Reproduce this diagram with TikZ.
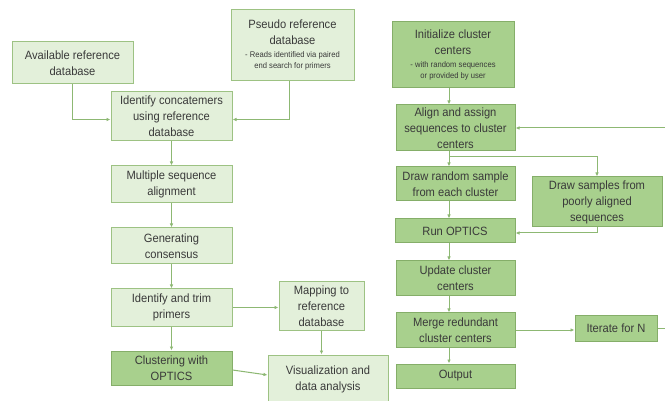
\documentclass[tikz,border=0pt]{standalone}
\usepackage{fontspec}
\setmainfont{Liberation Sans}[FakeStretch=0.93]
\usetikzlibrary{arrows.meta,calc}
\definecolor{lightfill}{HTML}{E3F0DA}
\definecolor{darkfill}{HTML}{A8D08D}
\definecolor{boxline}{HTML}{9DC283}
\definecolor{darkline}{HTML}{85AE69}
\definecolor{arrowcol}{HTML}{8DB873}
\definecolor{txt}{HTML}{3A3A3A}
\newcommand{\smalltxt}{\fontsize{8.2}{10}\selectfont}
\tikzset{
  boxbase/.style={draw, line width=1pt, align=center, inner sep=1pt, text=txt,
    font=\fontsize{12}{16}\selectfont},
  lightbox/.style={boxbase, fill=lightfill, draw=boxline},
  darkbox/.style={boxbase, fill=darkfill, draw=darkline},
  conn/.style={draw=arrowcol, line width=1pt, -{Latex[length=4pt,width=3.5pt]}}
}
\begin{document}
\begin{tikzpicture}[x=1pt,y=-1pt]
\useasboundingbox[fill=white] (0,0) rectangle (665,401);
% left column
\node[lightbox, minimum width=121pt, minimum height=42pt] (avail) at (72.5,63) {Available reference\\database};
\node[lightbox, minimum width=123pt, minimum height=71pt] (pseudo) at (292.5,45.5) {Pseudo reference\\database\\[-3pt]{\smalltxt - Reads identified via paired}\\[-5pt]{\smalltxt end search for primers}};
\node[lightbox, minimum width=121pt, minimum height=49pt] (ident) at (171.5,116.5) {Identify concatemers\\using reference\\database};
\node[lightbox, minimum width=121pt, minimum height=37pt] (msa) at (171.5,184.5) {Multiple sequence\\alignment};
\node[lightbox, minimum width=121pt, minimum height=36pt] (gen) at (171.5,246) {Generating\\consensus};
\node[lightbox, minimum width=121pt, minimum height=37pt] (trim) at (171.5,307.5) {Identify and trim\\primers};
\node[darkbox, minimum width=121pt, minimum height=34pt] (clus) at (171.5,368) {Clustering with\\OPTICS};
\node[lightbox, minimum width=85pt, minimum height=48pt] (map) at (321.5,306) {Mapping to\\reference\\database};
\node[lightbox, minimum width=120pt, minimum height=48pt] (vis) at (328,379) {Visualization and\\data analysis};
% right column
\node[darkbox, minimum width=122pt, minimum height=66pt] (init) at (453,55) {Initialize cluster\\centers\\[-3pt]{\smalltxt - with random sequences}\\[-5pt]{\smalltxt or provided by user}};
\node[darkbox, minimum width=119pt, minimum height=46pt] (align) at (455.5,128) {Align and assign\\sequences to cluster\\centers};
\node[darkbox, minimum width=119pt, minimum height=34pt] (rand) at (455.5,184) {Draw random sample\\from each cluster};
\node[darkbox, minimum width=130pt, minimum height=50pt] (poor) at (597,202) {Draw samples from\\poorly aligned\\sequences};
\node[darkbox, minimum width=120pt, minimum height=24pt] (run) at (455,231) {Run OPTICS};
\node[darkbox, minimum width=119pt, minimum height=35pt] (upd) at (455.5,278.5) {Update cluster\\centers};
\node[darkbox, minimum width=119pt, minimum height=34pt] (merge) at (455.5,330) {Merge redundant\\cluster centers};
\node[darkbox, minimum width=119pt, minimum height=24pt] (out) at (455.5,376) {Output};
\node[darkbox, minimum width=82pt, minimum height=25pt] (iter) at (616,328.5) {Iterate for N};
\coordinate (loopA) at (668,328.5);
\coordinate (loopB) at (668,128);
\coordinate (split) at (449,157);
% left connectors
\draw[conn] (avail.south) |- ([yshift=-3pt]ident.west);
\draw[conn] ([xshift=-3pt]pseudo.south) |- ([yshift=-3pt]ident.east);
\draw[conn] (ident) -- (msa);
\draw[conn] (msa) -- (gen);
\draw[conn] (gen) -- (trim);
\draw[conn] (trim) -- (clus);
\draw[conn] (trim.east) -- (map.west |- trim.east);
\draw[conn] (map) -- (map.south |- vis.north);
\draw[conn] ([yshift=-2pt]clus.east) -- ([yshift=4pt]vis.west);
% right connectors
\draw[conn] ([xshift=-4pt]init.south) -- ([xshift=-6.5pt]align.north);
\draw[conn] ([xshift=-6.5pt]align.south) -- ([xshift=-6.5pt]rand.north);
\draw[conn] (split) -| (poor.north);
\draw[conn] ([xshift=-6.5pt]rand.south) -- ([xshift=-6pt]run.north);
\draw[conn] (poor.south) |- ([yshift=-2pt]run.east);
\draw[conn] ([xshift=-6pt]run.south) -- ([xshift=-6.5pt]upd.north);
\draw[conn] ([xshift=-6.5pt]upd.south) -- ([xshift=-6.5pt]merge.north);
\draw[conn] ([xshift=-6.5pt]merge.south) -- ([xshift=-6.5pt]out.north);
\draw[conn] (merge.east) -- (iter.west |- merge.east);
\draw[conn] (iter.east) -- (loopA) -- (loopB) -- (align.east);
\end{tikzpicture}
\end{document}
